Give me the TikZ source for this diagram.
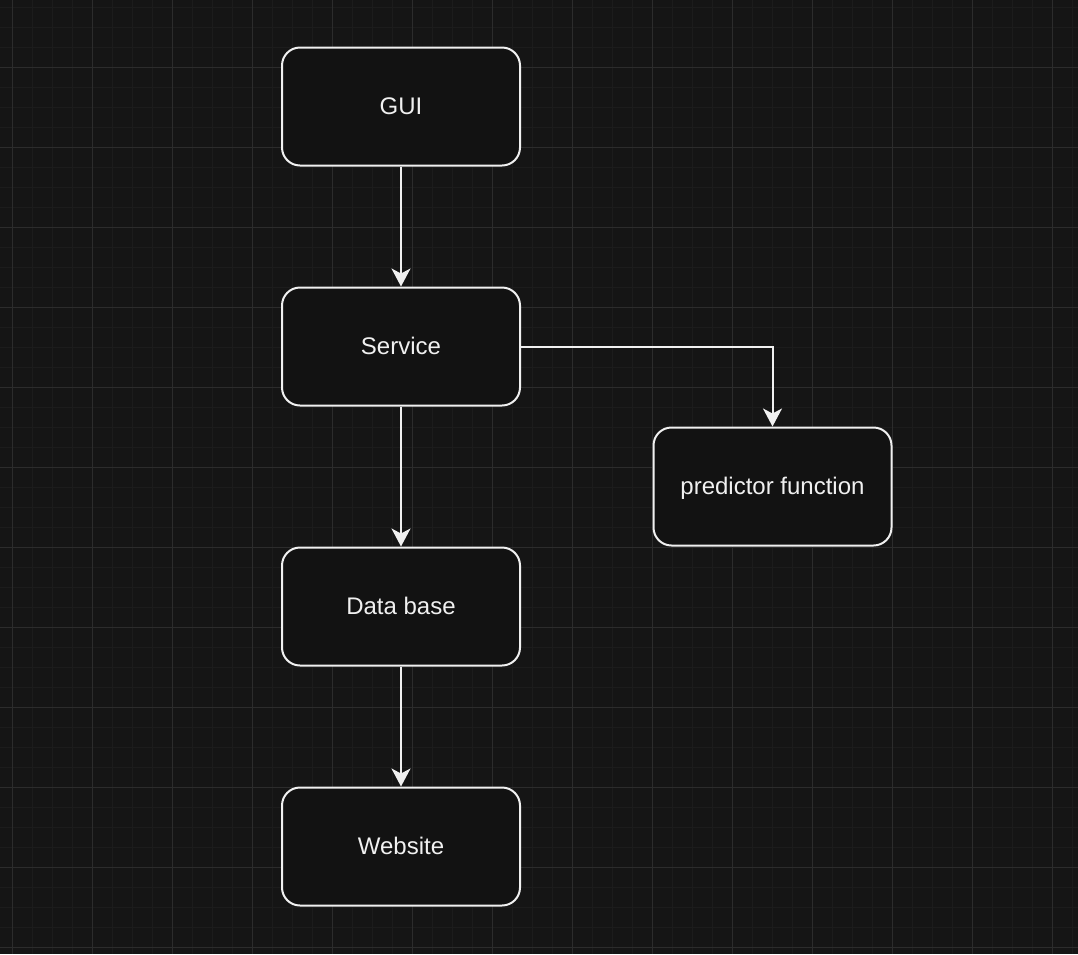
\documentclass[tikz,border=0pt]{standalone}
\usepackage{fontspec}
\setmainfont{Liberation Sans}
\usetikzlibrary{arrows.meta}
\definecolor{bg}{RGB}{21,21,21}
\definecolor{gridminor}{RGB}{28,28,28}
\definecolor{gridmajor}{RGB}{44,44,44}
\definecolor{boxfill}{RGB}{18,18,18}
\definecolor{edge}{RGB}{240,240,240}
\begin{document}
\begin{tikzpicture}[x=1pt,y=-1pt,
  box/.style={draw=edge, fill=boxfill, line width=2pt, rounded corners=18pt,
    minimum width=238pt, minimum height=118pt, inner sep=0pt,
    text height=20pt, text depth=5pt,
    font=\fontsize{24}{27}\selectfont, text=edge},
  link/.style={draw=edge, line width=2pt, -{Stealth[length=18pt,width=19pt,inset=5pt]}},
  minorline/.style={draw=gridminor, line width=1pt},
  majorline/.style={draw=gridmajor, line width=1pt}]
  % canvas and grid
  \fill[bg] (0,0) rectangle (1078,954);
  \useasboundingbox (0,0) rectangle (1078,954);
  \foreach \x in {12,32,...,1072} \draw[minorline] (\x,0) -- (\x,954);
  \foreach \y in {7,27,...,947} \draw[minorline] (0,\y) -- (1078,\y);
  \foreach \x in {12,92,...,1072} \draw[majorline] (\x,0) -- (\x,954);
  \foreach \y in {67,147,...,947} \draw[majorline] (0,\y) -- (1078,\y);
  % nodes
  \node[box] (gui) at (401,106.5) {GUI};
  \node[box] (service) at (401,346.5) {Service};
  \node[box] (db) at (401,606.5) {Data base};
  \node[box] (web) at (401,846.5) {Website};
  \node[box] (pred) at (772.5,486.5) {predictor function};
  % connectors
  \draw[link] (gui) -- (service);
  \draw[link] (service) -- (db);
  \draw[link] (db) -- (web);
  \draw[link] (service.east) -| (pred.north);
\end{tikzpicture}
\end{document}
